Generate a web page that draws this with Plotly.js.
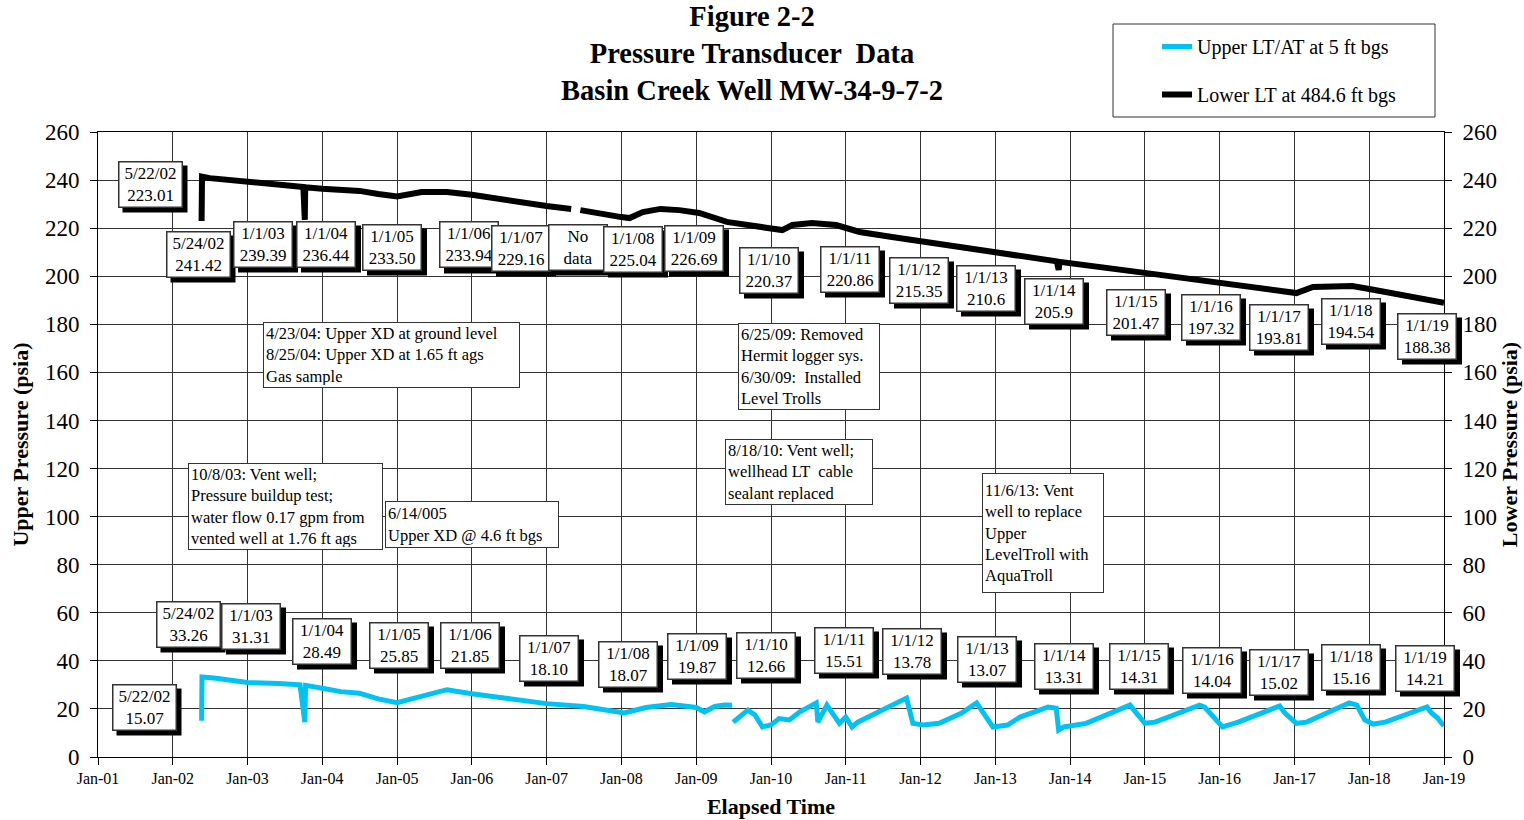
<!DOCTYPE html>
<html>
<head>
<meta charset="utf-8">
<script src="https://cdn.plot.ly/plotly-3.0.1.min.js"></script>
<style>
  html, body { margin: 0; padding: 0; background: #fff; }
  #chart { width: 1524px; height: 820px; }
</style>
</head>
<body>
<div id="chart"></div>
<script>
// ---------------- DATA ----------------
const seriesNames = ['Upper LT/AT at 5 ft bgs', 'Lower LT at 484.6 ft bgs'];

// Upper transducer (left axis), psia
const upperDates = [
  '2002-05-22','2002-05-24','2002-08-01','2003-01-01','2003-06-01','2003-09-15','2003-10-08','2003-10-12',
  '2004-01-01','2004-04-01','2004-07-01','2004-10-01','2005-01-01','2005-04-01','2005-07-01','2005-09-01',
  '2006-01-01','2006-06-01','2007-01-01','2007-07-01','2007-11-01','2008-01-15','2008-05-01','2008-09-01',
  '2009-01-01','2009-02-10','2009-04-01','2009-05-20','2009-06-25','2009-06-27',
  '2009-06-30','2009-08-01','2009-09-10','2009-10-15','2009-11-20','2010-01-01','2010-02-10','2010-04-01',
  '2010-05-20','2010-08-10','2010-08-18','2010-10-01','2010-12-01','2011-01-01','2011-02-01','2011-03-01',
  '2011-06-01','2011-09-01','2011-10-25','2011-11-25','2012-01-15','2012-04-01','2012-07-20','2012-10-01',
  '2012-10-25','2012-12-20','2013-03-01','2013-05-01','2013-08-05','2013-09-15','2013-10-25','2013-11-06',
  '2013-12-01','2014-03-20','2014-10-20','2014-11-15','2015-01-01','2015-02-20','2015-09-25','2015-10-20',
  '2016-01-15','2016-04-01','2016-10-20','2016-11-15','2017-01-10','2017-03-01','2017-09-25','2017-11-01',
  '2017-12-10','2018-01-20','2018-03-20','2018-10-10','2018-11-01','2018-12-01','2018-12-31'
];
const upperPsia = [
  15.1, 33.3, 32.8, 31.0, 30.6, 30.0, 14.5, 29.8,
  28.6, 27.2, 26.5, 24.2, 22.6, 24.5, 26.8, 28.0,
  26.3, 24.6, 22.2, 21.0, 19.2, 18.3, 20.6, 21.8,
  20.6, 18.8, 21.0, 21.6, 21.5, null,
  14.5, 16.6, 19.5, 17.5, 12.5, 13.3, 16.0, 15.4,
  18.7, 22.5, 14.5, 21.6, 14.0, 16.6, 12.5, 14.5,
  18.3, 22.5, 24.5, 14.0, 13.3, 14.0, 18.3, 22.5,
  19.5, 12.5, 13.3, 16.6, 19.5, 20.8, 20.3, 11.2,
  12.5, 14.0, 21.6, 18.7, 14.0, 14.5, 21.6, 20.8,
  12.5, 14.5, 21.2, 18.3, 14.0, 14.5, 22.5, 21.6,
  15.4, 13.7, 14.5, 20.8, 18.3, 16.2, 12.9
];

// Lower transducer (right axis), psia
const lowerDates = [
  '2002-05-22','2002-05-24','2002-07-01','2003-01-01','2003-06-01','2003-10-01','2003-10-08','2003-10-10',
  '2004-01-01','2004-04-15','2004-07-01','2004-10-01','2005-01-01','2005-05-01','2005-09-01','2006-01-01',
  '2006-04-01','2006-09-01','2007-01-01','2007-05-01','2007-06-01','2007-06-15','2007-10-01','2008-01-01',
  '2008-02-10','2008-04-15','2008-07-10','2008-10-10','2009-01-15','2009-05-30','2009-12-15','2010-02-25',
  '2010-04-15','2010-07-20','2010-11-15','2011-03-10','2011-08-15','2012-07-10','2013-04-01','2013-08-01',
  '2013-10-28','2013-11-06','2013-11-10','2015-01-10','2016-01-01','2017-01-10','2017-04-01','2017-10-10',
  '2018-01-01','2019-01-01'
];
const lowerPsia = [
  223.0, 241.4, 240.8, 239.3, 238.0, 237.1, 223.4, 237.0,
  236.4, 235.9, 235.5, 234.2, 233.2, 235.0, 235.0, 233.9,
  232.6, 230.4, 229.2, 228.0, null, 227.5, 225.6, 224.6,
  224.2, 226.7, 228.0, 227.5, 226.3, 222.6, 220.1, 219.2,
  221.3, 222.1, 221.3, 218.4, 216.3, 212.1, 209.0, 207.6,
  206.2, 202.6, 206.0, 201.3, 197.2, 193.0, 195.5, 195.9,
  194.7, 188.9
];

// Callout labels (text only)
const lowerLabelDates  = ['5/22/02','5/24/02','1/1/03','1/1/04','1/1/05','1/1/06','1/1/07','No','1/1/08','1/1/09',
                          '1/1/10','1/1/11','1/1/12','1/1/13','1/1/14','1/1/15','1/1/16','1/1/17','1/1/18','1/1/19'];
const lowerLabelValues = ['223.01','241.42','239.39','236.44','233.50','233.94','229.16','data','225.04','226.69',
                          '220.37','220.86','215.35','210.6','205.9','201.47','197.32','193.81','194.54','188.38'];
const upperLabelDates  = ['5/22/02','5/24/02','1/1/03','1/1/04','1/1/05','1/1/06','1/1/07','1/1/08','1/1/09',
                          '1/1/10','1/1/11','1/1/12','1/1/13','1/1/14','1/1/15','1/1/16','1/1/17','1/1/18','1/1/19'];
const upperLabelValues = ['15.07','33.26','31.31','28.49','25.85','21.85','18.10','18.07','19.87',
                          '12.66','15.51','13.78','13.07','13.31','14.31','14.04','15.02','15.16','14.21'];

const noteTexts = [
  '4/23/04: Upper XD at ground level<br>8/25/04: Upper XD at 1.65 ft ags<br>Gas sample',
  '10/8/03: Vent well;<br>Pressure buildup test;<br>water flow 0.17 gpm from<br>vented well at 1.76 ft ags',
  '6/14/005<br>Upper XD @ 4.6 ft bgs',
  '6/25/09: Removed<br>Hermit logger sys.<br>6/30/09:  Installed<br>Level Trolls',
  '8/18/10: Vent well;<br>wellhead LT  cable<br>sealant replaced',
  '11/6/13: Vent<br>well to replace<br>Upper<br>LevelTroll with<br>AquaTroll'
];

const titleLines = ['Figure 2-2', 'Pressure Transducer  Data', 'Basin Creek Well MW-34-9-7-2'];
const xTitle = 'Elapsed Time';
const yTitleLeft = 'Upper Pressure (psia)';
const yTitleRight = 'Lower Pressure (psia)';

// ---------------- LAYOUT (positions / styles) ----------------
const FONT = 'Liberation Serif, "Times New Roman", Times, serif';
const PL = 98, PR = 1444, PT = 132, PB = 757;     // plot area in pixels
function pp(px, py) { return { x: (px - PL) / (PR - PL), y: (PB - py) / (PB - PT) }; }

// callout box centres (pixels)
const lowerLabelPos = [[150,184],[198,254],[263,244],[326,244],[392,247],[469,245],[521,248],[578,247],[633,249],[694,248],
                       [769,270],[850,269],[919,280],[986,288],[1054,301],[1136,312],[1211,317],[1279,327],[1351,321],[1427,336]];
const upperLabelPos = [[144,707],[188,624],[251,626],[322,641],[399,645],[470,645],[549,658],[628,664],[697,656],
                       [766,655],[844,650],[912,651],[987,659],[1064,666],[1139,666],[1212,670],[1279,672],[1351,667],[1425,668]];
// note boxes: centre and outer size (pixels)
const notePos  = [[391,355],[285,506],[472,524],[809,366],[799,472],[1043,533]];
const noteOuter = [[259,66],[197,87],[176,47],[144,87],[150,66],[124,120]];

const annotations = [];
const shapes = [];
const CB_H = 42, CB_PAD = 1, CB_BW = 1.5, SH = 5;
function addCallout(text, pos, w) {
  const p = pp(pos[0], pos[1]);
  const W = w + 2 * (CB_PAD + CB_BW), H = CB_H + 2 * (CB_PAD + CB_BW);
  const a = pp(pos[0] - W / 2 + SH, pos[1] + H / 2 + SH), b = pp(pos[0] + W / 2 + SH, pos[1] - H / 2 + SH);
  shapes.push({ type: 'rect', xref: 'paper', yref: 'paper', x0: a.x, y0: a.y, x1: b.x, y1: b.y,
    fillcolor: '#000', line: { width: 0 }, layer: 'above' });
  annotations.push({ xref: 'paper', yref: 'paper', x: p.x, y: p.y, xanchor: 'center', yanchor: 'middle',
    showarrow: false, text: text, width: w, height: CB_H, borderpad: CB_PAD, borderwidth: CB_BW, align: 'center',
    bgcolor: '#fff', bordercolor: '#333', font: { family: FONT, size: 17, color: '#000' } });
}
lowerLabelDates.forEach((d, i) => addCallout(d + '<br>' + lowerLabelValues[i], lowerLabelPos[i], d.length > 6 ? 60 : 55));
upperLabelDates.forEach((d, i) => addCallout(d + '<br>' + upperLabelValues[i], upperLabelPos[i], d.length > 6 ? 60 : 55));

noteTexts.forEach((t, i) => {
  const p = pp(notePos[i][0], notePos[i][1]);
  annotations.push({ xref: 'paper', yref: 'paper', x: p.x, y: p.y, xanchor: 'center', yanchor: 'middle',
    showarrow: false, text: t, align: 'left', width: noteOuter[i][0] - 8, height: noteOuter[i][1] - 6,
    bgcolor: '#fff', bordercolor: '#333', borderwidth: 1, borderpad: 2,
    font: { family: FONT, size: 16.5, color: '#000' } });
});

const legBox0 = pp(1113, 117), legBox1 = pp(1435, 24), legPos = pp(1157, 27);
shapes.push({ type: 'rect', xref: 'paper', yref: 'paper', x0: legBox0.x, y0: legBox0.y, x1: legBox1.x, y1: legBox1.y,
  line: { color: '#333', width: 1 }, fillcolor: 'rgba(0,0,0,0)', layer: 'above' });

const traces = [
  { type: 'scatter', mode: 'lines', name: seriesNames[0], x: upperDates, y: upperPsia, yaxis: 'y',
    legendgroup: 'u', line: { color: '#00C2F3', width: 5 }, connectgaps: false },
  { type: 'scatter', mode: 'lines', name: seriesNames[1], x: lowerDates, y: lowerPsia, yaxis: 'y2',
    legendgroup: 'l', line: { color: '#000', width: 6 }, connectgaps: false }
];

const axisFont = { family: FONT, size: 23, color: '#000' };
const layout = {
  width: 1524, height: 820,
  margin: { l: PL, r: 1524 - PR, t: PT, b: 820 - PB, pad: 0 },
  paper_bgcolor: '#fff', plot_bgcolor: '#fff',
  font: { family: FONT, color: '#000' },
  title: { text: titleLines.map(s => '<b>' + s + '</b>').join('<br>'), x: 752 / 1524, xanchor: 'center', xref: 'container',
           y: 0.968, yanchor: 'top', yref: 'container', font: { family: FONT, size: 28.5, color: '#000' } },
  showlegend: true,
  legend: { x: legPos.x, y: legPos.y, xanchor: 'left', yanchor: 'top', bgcolor: 'rgba(0,0,0,0)', borderwidth: 0,
            tracegroupgap: 19, font: { family: FONT, size: 20, color: '#000' } },
  xaxis: {
    type: 'date', range: ['2001-01-01', '2019-01-01'], tick0: '2001-01-01', dtick: 'M12', tickformat: '%b-%y',
    showgrid: true, gridcolor: '#333', gridwidth: 1, showline: true, linecolor: '#000', linewidth: 1, mirror: true,
    ticks: 'outside', ticklen: 7, tickcolor: '#000', tickfont: { family: FONT, size: 16, color: '#000' },
    zeroline: false,
    title: { text: '<b>' + xTitle + '</b>', font: { family: FONT, size: 22, color: '#000' }, standoff: 12 }
  },
  yaxis: {
    range: [0, 260], dtick: 20, tick0: 0, showgrid: true, gridcolor: '#333', gridwidth: 1,
    showline: true, linecolor: '#000', linewidth: 1, ticks: 'outside', ticklen: 7, tickcolor: '#000',
    ticklabelstandoff: 6, tickfont: axisFont, zeroline: false,
    title: { text: '<b>' + yTitleLeft + '</b>', font: { family: FONT, size: 22, color: '#000' }, standoff: 10 }
  },
  yaxis2: {
    range: [0, 260], dtick: 20, tick0: 0, overlaying: 'y', side: 'right', showgrid: false,
    showline: true, linecolor: '#000', linewidth: 1, ticks: 'outside', ticklen: 7, tickcolor: '#000',
    ticklabelstandoff: 6, tickfont: axisFont, zeroline: false,
    title: { text: '<b>' + yTitleRight + '</b>', font: { family: FONT, size: 22, color: '#000' }, standoff: 2 }
  },
  shapes: shapes,
  annotations: annotations
};

Plotly.newPlot('chart', traces, layout, { displayModeBar: false, staticPlot: true });
</script>
</body>
</html>
